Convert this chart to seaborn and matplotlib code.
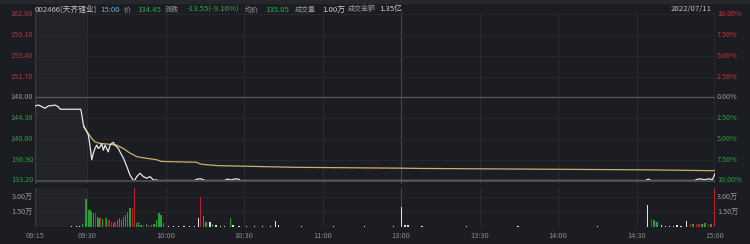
import matplotlib
matplotlib.use("Agg")
import matplotlib.pyplot as plt
import matplotlib.transforms as mtrans
import seaborn as sns

# ---------------- data ----------------
prev_close = 148.00
price_ticks = [133.20, 136.90, 140.60, 144.30, 148.00, 151.70, 155.40, 159.10, 162.80]
pct_labels = ["10.00%", "7.50%", "5.00%", "2.50%", "0.00%", "2.50%", "5.00%", "7.50%", "10.00%"]
vol_ticks = [1.5, 3.0]
vol_tick_labels = ["1.50万", "3.00万"]
time_slots = [0, 20, 50, 80, 110, 140, 170, 200, 230, 260]
time_labels = ["09:15", "09:30", "10:00", "10:30", "11:00", "13:00", "13:30", "14:00", "14:30", "15:00"]

# price line (slot on the time axis, price)
price_x = [0, 1.3, 2.6, 3.8, 5.1, 6.4, 7.6, 8.9, 9.6, 17.5, 17.8, 18.5, 19.1, 19.8, 20.4,
           21.0, 21.7, 22.3, 22.9, 23.6, 24.2, 24.9, 25.5, 26.1, 26.8, 27.4, 28.0, 28.7,
           29.3, 29.9, 30.6, 31.2, 31.9, 32.5, 33.8, 35.1, 36.3, 37.6, 38.2, 38.9, 40.2,
           41.4, 42.7, 44.0, 45.2, 46.5, 47.0, 61.0, 62.0, 63.5, 64.5, 65.0, 72.5, 73.5,
           75.0, 76.5, 78.0, 78.5, 233.5, 234.5, 235.5, 252.0, 254.0, 256.0, 258.0, 259.0, 260.0]
price_y = [146.50, 146.65, 146.36, 146.07, 146.50, 146.55, 146.65, 146.36, 145.90, 145.90,
           145.18, 143.10, 142.50, 141.90, 141.30, 139.50, 136.90, 138.05, 138.90, 139.50,
           138.90, 139.20, 139.80, 138.60, 139.50, 138.90, 138.30, 139.50, 139.80, 140.00,
           139.50, 139.20, 138.90, 138.30, 137.20, 135.70, 134.20, 133.20, 133.30, 133.90,
           134.50, 133.90, 133.60, 133.90, 133.30, 133.30, 133.20, 133.20, 133.45, 133.50,
           133.30, 133.20, 133.20, 133.45, 133.30, 133.50, 133.40, 133.20, 133.20, 133.45,
           133.20, 133.20, 133.50, 133.35, 133.50, 133.30, 134.45]

# average price line
avg_x = [18.5, 20.4, 21.7, 22.9, 24.9, 28.7, 31.2, 33.8, 36.3, 38.9, 42.7, 46.5, 48.4,
         61.8, 63.1, 65.7, 70.0, 84.8, 99.4, 139.6, 147.2, 234.0, 259.3, 260.0]
avg_y = [142.80, 141.60, 140.70, 140.10, 139.80, 139.65, 139.50, 138.90, 138.10, 137.45,
         137.15, 136.90, 136.60, 136.45, 136.15, 136.00, 135.85, 135.70, 135.55, 135.40,
         135.35, 135.10, 134.95, 135.00]

# volume (万) per bar: slot, value, direction (u=up red, d=down green, f=flat white)
vol_x = [11, 13, 14, 15, 16, 17, 18.2,
         19.5, 20.3, 21.0, 21.7, 22.3, 23.2, 23.8, 24.5, 25.2, 25.9, 26.8, 27.4, 28.3,
         29.1, 29.9, 30.6, 31.5, 32.2, 33.2, 33.8, 34.7, 35.4, 36.3, 37.2, 37.9, 38.8,
         39.7, 40.5, 41.5, 42.5, 43.5, 44.5, 45.5, 46.5, 47.4, 48.2, 49.0,
         51, 53, 55, 57, 59, 61, 62.4, 63.4, 64.4, 65.4, 66.9, 68.0, 69.2,
         71, 72.5, 74.6, 75.7, 78, 81, 84, 87, 90, 91.8, 93.0,
         97, 102, 108, 114, 120, 126, 132, 137, 140.2, 141.5, 142.6,
         148, 156, 165, 175, 184.7, 195, 205, 215, 225,
         234.3, 235.6, 236.7, 237.8, 239.4, 241, 242.5, 244, 245.5, 247,
         249.2, 250.5, 251.6, 252.8, 253.9, 255.0, 256.2, 257.4, 258.5, 259.7]
vol_v = [0.08, 0.08, 0.1, 0.08, 0.1, 0.12, 0.35,
         2.80, 1.73, 1.70, 1.57, 1.40, 1.47, 1.07, 0.90, 1.07, 0.80, 0.90, 0.90, 0.73,
         0.57, 0.40, 0.57, 0.73, 0.90, 0.73, 1.07, 1.23, 1.57, 1.90, 1.90, 4.50, 0.40,
         0.57, 0.20, 0.20, 0.30, 0.20, 0.25, 0.30, 0.73, 1.40, 1.23, 0.40,
         0.10, 0.10, 0.12, 0.10, 0.10, 0.12, 0.90, 3.06, 1.15, 0.50, 0.50, 0.30, 0.20,
         0.10, 0.12, 0.90, 0.20, 0.10, 0.12, 0.10, 0.10, 0.12, 0.63, 0.25,
         0.08, 0.10, 0.08, 0.10, 0.08, 0.10, 0.08, 0.10, 2.06, 0.23, 0.23,
         0.10, 0.08, 0.10, 0.08, 0.15, 0.08, 0.08, 0.10, 0.08,
         2.20, 0.80, 0.70, 0.50, 0.20, 0.15, 0.18, 0.15, 0.20, 0.18,
         0.60, 0.35, 0.30, 0.32, 0.35, 0.30, 0.40, 0.30, 0.35, 4.50]
vol_dir = ["f"] * 6 + ["d",
           "d", "d", "d", "d", "d", "u", "d", "d", "u", "d", "u", "d", "u",
           "u", "d", "u", "d", "d", "d", "d", "d", "d", "d", "u", "u", "d",
           "d", "d", "u", "d", "u", "d", "d", "d", "d", "d", "d",
           "f", "f", "f", "f", "f", "f", "f", "u", "d", "d", "f", "d", "f",
           "f", "f", "d", "f", "f", "f", "f", "f", "f", "f", "f",
           "f", "f", "f", "f", "f", "f", "f", "f", "f", "f", "f",
           "f", "f", "f", "f", "f", "f", "f", "f", "f",
           "f", "u", "d", "d", "f", "f", "f", "f", "f", "f",
           "f", "u", "d", "u", "u", "d", "d", "u", "d", "u"]

header_parts = [("002466[天齐锂业]", 35, "#c8c8c8", 5.6), ("15:00", 100, "#56b4d3", 5.6),
                ("价", 124, "#9a9a9a", 5.0), ("134.45", 137, "#2ea84a", 5.6),
                ("涨跌", 165, "#9a9a9a", 5.0), ("-13.55(-9.16%)", 187, "#2ea84a", 5.6),
                ("均价", 245, "#9a9a9a", 5.0), ("135.05", 265, "#2ea84a", 5.6),
                ("成交量", 295, "#9a9a9a", 5.0), ("1.00万", 322, "#d0d0d0", 5.6),
                ("成交金额", 348, "#9a9a9a", 5.0), ("1.35亿", 379, "#d0d0d0", 5.6)]
date_text = "2022/07/11"

# ---------------- style ----------------
BG = "#1b1d22"
PRE_BG = "#222429"
GRID_H = "#25272d"
GRID_V = "#2a2c32"
RED = "#c0323a"
GREEN = "#2e9e46"
GRAY = "#9a9a9a"

sns.set_style("dark")
plt.rcParams["font.family"] = ["Noto Sans CJK SC", "DejaVu Sans"]

W, H = 750, 244
fig = plt.figure(figsize=(7.5, 2.44), dpi=100, facecolor=BG)


def fx(px):
    return px / W


def fy(py):
    return 1 - py / H


x0, x1 = 35, 715
p_top, p_bot = 12, 184
v_top, v_bot = 188, 227.3
ppu = 5.61  # pixels per price unit
p_lo = 133.2 - (p_bot - 180.5) / ppu
p_hi = p_lo + (p_bot - p_top) / ppu

ax_p = fig.add_axes([fx(x0), fy(p_bot), fx(x1 - x0), (p_bot - p_top) / H])
ax_v = fig.add_axes([fx(x0), fy(v_bot), fx(x1 - x0), (v_bot - v_top) / H])

for ax in (ax_p, ax_v):
    ax.set_facecolor(BG)
    ax.set_xlim(0, 260)
    ax.axvspan(0, 20, color=PRE_BG, zorder=0, lw=0)
    for s in ax.spines.values():
        s.set_visible(False)
    ax.set_xticks([])
    ax.set_yticks([])
    ax.grid(False)
    for s in time_slots[1:-1]:
        c = "#46484e" if s == 140 else GRID_V
        ax.axvline(s, color=c, lw=0.8, zorder=1)
    ax.axvline(0, color="#3c3e44", lw=1.0, zorder=1)
    ax.axvline(260, color="#55575c", lw=1.0, zorder=1)

ax_p.set_ylim(p_lo, p_hi)
ax_v.set_ylim(0, (v_bot - v_top) / 10.0)

for t in price_ticks:
    if t == prev_close:
        ax_p.axhline(t, color="#55575c", lw=0.9, zorder=1)
    elif t != 133.20:
        ax_p.axhline(t, color=GRID_H, lw=0.8, zorder=1)

for t in vol_ticks:
    ax_v.axhline(t, color=GRID_H, lw=0.8, zorder=1)

# lines
sns.lineplot(x=avg_x, y=avg_y, ax=ax_p, color="#cbb066", lw=0.9, estimator=None,
             sort=False, zorder=3)
sns.lineplot(x=price_x, y=price_y, ax=ax_p, color="#e6e6e6", lw=0.9, estimator=None,
             sort=False, zorder=3)
# limit-down boundary line drawn over the price
ax_p.axhline(133.20, color="#4a4c52", lw=1.3, zorder=4)

# volume bars
cmap = {"u": "#b8232b", "d": "#23a032", "f": "#e0e0e0"}
ax_v.bar(vol_x, vol_v, width=0.45, color=[cmap[d] for d in vol_dir], lw=0, zorder=3)

# y labels
FS = 5.2
tl = mtrans.blended_transform_factory(fig.transFigure, ax_p.transData)
for t, pl in zip(price_ticks, pct_labels):
    c = GRAY if t == prev_close else (RED if t > prev_close else GREEN)
    fig.text(fx(33), t, f"{t:.2f}", transform=tl, ha="right", va="center",
             fontsize=FS, color=c)
    fig.text(fx(717), t, pl, transform=tl, ha="left", va="center", fontsize=FS, color=c)

tv = mtrans.blended_transform_factory(fig.transFigure, ax_v.transData)
for t, lab in zip(vol_ticks, vol_tick_labels):
    fig.text(fx(33), t, lab, transform=tv, ha="right", va="center", fontsize=FS, color=GRAY)
    fig.text(fx(717), t, lab, transform=tv, ha="left", va="center", fontsize=FS, color=GRAY)

# time labels
tt = mtrans.blended_transform_factory(ax_v.transData, fig.transFigure)
for s, lab in zip(time_slots, time_labels):
    fig.text(s, fy(235.5), lab, transform=tt, ha="center", va="center", fontsize=5.4,
             color="#8a8a8a")

# header
fig.patches.append(plt.Rectangle((0, fy(3)), 1, 3 / H, transform=fig.transFigure,
                                 color="#26282d", zorder=0))
for txt, px, c, fs in header_parts:
    fig.text(fx(px), fy(9.5), txt, ha="left", va="center", fontsize=fs, color=c)
fig.text(fx(712), fy(9.5), date_text, ha="right", va="center", fontsize=5.6, color="#c0c0c0")

fig.savefig("out.png", dpi=100, facecolor=BG)
